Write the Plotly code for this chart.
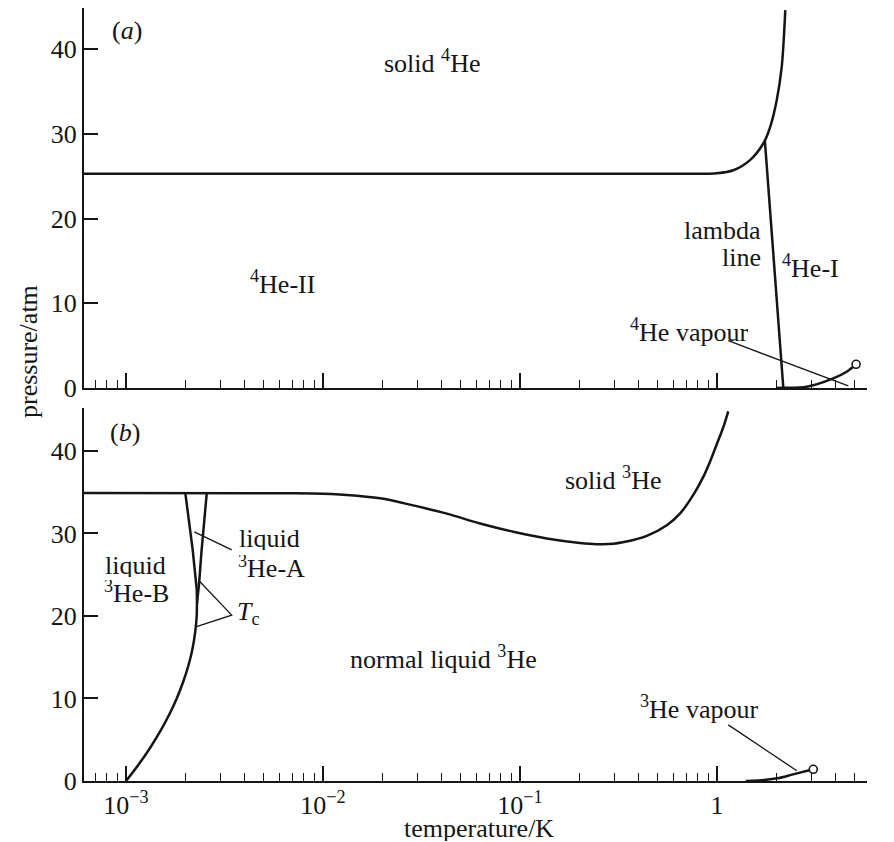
import math
import plotly.graph_objects as go

# ---------------- data (temperature / K, pressure / atm) ----------------
# panel (a): helium-4
he4_melt_T = [6.0e-4, 0.6, 1.0, 1.21, 1.47, 1.72, 1.86, 2.01, 2.13, 2.19, 2.22]
he4_melt_P = [25.3, 25.3, 25.35, 25.7, 26.9, 28.9, 30.8, 34.0, 37.9, 41.9, 44.6]
lambda_T = [1.75, 2.17]
lambda_P = [29.1, 0.0]
he4_vap_T = [2.0, 2.17, 2.85, 3.89, 4.55, 5.08]
he4_vap_P = [0.0, 0.02, 0.15, 1.14, 1.92, 2.8]
he4_crit_T = [5.08]
he4_crit_P = [2.8]
he4_vap_ptr_T = [1.14, 4.64]
he4_vap_ptr_P = [5.58, 0.24]

# panel (b): helium-3
he3_melt_T = [6.0e-4, 6.05e-3, 8.93e-3, 0.0132, 0.0195, 0.0287, 0.0425, 0.0627,
              0.0925, 0.1366, 0.2017, 0.245, 0.298, 0.376, 0.44, 0.556, 0.648,
              0.759, 0.849, 0.921, 1.0, 1.077, 1.14]
he3_melt_P = [34.9, 34.87, 34.85, 34.67, 34.26, 33.4, 32.4, 31.2,
              30.2, 29.4, 28.85, 28.7, 28.75, 29.2, 29.7, 31.0, 32.4,
              34.7, 36.8, 38.7, 40.9, 42.9, 44.8]
he3_tc_T = [1.000e-3, 1.159e-3, 1.324e-3, 1.490e-3, 1.653e-3, 1.809e-3, 1.949e-3,
            2.074e-3, 2.174e-3, 2.243e-3, 2.285e-3, 2.293e-3, 2.35e-3, 2.42e-3, 2.57e-3]
he3_tc_P = [0.0, 2.0, 4.0, 6.0, 8.0, 10.0, 12.0,
            14.0, 16.0, 18.0, 20.0, 21.5, 24.0, 28.0, 34.9]
he3_ab_T = [2.293e-3, 2.286e-3, 2.18e-3, 2.0e-3]
he3_ab_P = [21.5, 23.2, 28.0, 34.9]
he3_vap_T = [1.4, 1.52, 2.02, 2.43, 3.08]
he3_vap_P = [0.0, 0.02, 0.33, 0.8, 1.42]
he3_crit_T = [3.08]
he3_crit_P = [1.42]
he3_vap_ptr_T = [1.14, 2.54]
he3_vap_ptr_P = [6.8, 1.25]
tc_ptr_T = [2.36e-3, 3.44e-3, 2.28e-3]
tc_ptr_P = [24.2, 20.1, 18.7]
heA_ptr_T = [3.44e-3, 2.22e-3]
heA_ptr_P = [28.0, 30.2]

# axis ticks
y_ticks = [0, 10, 20, 30, 40]
x_major = [1e-3, 1e-2, 1e-1, 1.0]
x_major_text = ["10<sup>\u22123</sup>", "10<sup>\u22122</sup>", "10<sup>\u22121</sup>", "1"]
x_minor = [m * d for d in [1e-4, 1e-3, 1e-2, 1e-1, 1.0] for m in range(2, 10)]

# ---------------- figure ----------------
FONT = "Liberation Serif, Times New Roman, serif"
INK = "#151515"
LW = 2.5

fig = go.Figure()


def line(T, P, ax, width=LW, shape="linear"):
    xa, ya = ("x", "y") if ax == "a" else ("x2", "y2")
    fig.add_trace(go.Scatter(x=T, y=P, mode="lines", xaxis=xa, yaxis=ya,
                             line=dict(color=INK, width=width, shape=shape, smoothing=0.9),
                             showlegend=False, hoverinfo="skip"))


def point(T, P, ax):
    xa, ya = ("x", "y") if ax == "a" else ("x2", "y2")
    fig.add_trace(go.Scatter(x=T, y=P, mode="markers", xaxis=xa, yaxis=ya,
                             marker=dict(symbol="circle", size=8, color="white",
                                         line=dict(color=INK, width=1.6)),
                             cliponaxis=False, showlegend=False, hoverinfo="skip"))


# panel (a)
line(he4_melt_T, he4_melt_P, "a", shape="spline")
line(lambda_T, lambda_P, "a")
line(he4_vap_T, he4_vap_P, "a", shape="spline")
line(he4_vap_ptr_T, he4_vap_ptr_P, "a", width=1.3)
point(he4_crit_T, he4_crit_P, "a")

# panel (b)
line(he3_melt_T, he3_melt_P, "b", shape="spline")
line(he3_tc_T, he3_tc_P, "b", shape="spline")
line(he3_ab_T, he3_ab_P, "b")
line(he3_vap_T, he3_vap_P, "b", shape="spline")
line(he3_vap_ptr_T, he3_vap_ptr_P, "b", width=1.3)
line(tc_ptr_T, tc_ptr_P, "b", width=1.3)
line(heA_ptr_T, heA_ptr_P, "b", width=1.3)
point(he3_crit_T, he3_crit_P, "b")

# ---------------- labels ----------------
annotations = []


def label(text, T, P, ax, anchor="left", size=26, h=None):
    xr, yr = ("x", "y") if ax == "a" else ("x2", "y2")
    a = dict(text=text, x=math.log10(T), y=P, xref=xr, yref=yr,
             xanchor=anchor, yanchor="middle", showarrow=False,
             font=dict(family=FONT, size=size, color=INK))
    if h:
        a["height"] = h
    annotations.append(a)


label("(<i>a</i>)", 1.01e-3, 42.2, "a", "center")
label("solid <sup>4</sup>He", 0.0199, 38.5, "a")
label("<sup>4</sup>He-II", 4.16e-3, 12.4, "a")
label("lambda", 1.71, 18.6, "a", "right", h=24)
label("line", 1.71, 15.5, "a", "right", h=24)
label("<sup>4</sup>He-I", 2.09, 14.3, "a")
label("<sup>4</sup>He vapour", 0.353, 6.84, "a")
label("critical", 6.49, 8.38, "a", "right", h=24)
label("point", 6.49, 5.07, "a", "right", h=24)

label("(<i>b</i>)", 0.99e-3, 42.2, "b", "center")
label("liquid", 7.64e-4, 26.2, "b", h=24)
label("<sup>3</sup>He-B", 7.55e-4, 22.9, "b", h=24)
label("liquid", 3.66e-3, 29.5, "b", h=24)
label("<sup>3</sup>He-A", 3.6e-3, 25.9, "b", h=24)
label("<i>T</i><sub>c</sub>", 3.57e-3, 20.4, "b")
label("solid <sup>3</sup>He", 0.165, 36.7, "b")
label("normal liquid <sup>3</sup>He", 0.0134, 15.0, "b")
label("<sup>3</sup>He vapour", 0.397, 8.85, "b")
label("critical", 5.98, 7.15, "b", "right", h=24)
label("point", 5.98, 4.0, "b", "right", h=24)

# axis titles (paper coordinates)
annotations.append(dict(text="pressure/atm", x=-0.0702, y=0.555, xref="paper", yref="paper",
                        textangle=-90, showarrow=False, xanchor="center", yanchor="middle",
                        font=dict(family=FONT, size=26, color=INK)))
annotations.append(dict(text="temperature/K", x=0.5045, y=-0.0605, xref="paper", yref="paper",
                        showarrow=False, xanchor="center", yanchor="middle", height=26,
                        font=dict(family=FONT, size=26, color=INK)))

xr = [math.log10(6.12e-4), math.log10(5.77)]

xcommon = dict(type="log", range=xr, showgrid=False, zeroline=False,
               showline=True, linecolor=INK, linewidth=2,
               ticks="inside", ticklen=15, tickwidth=1.6, tickcolor=INK,
               tickmode="array", tickvals=x_major, ticktext=x_major_text,
               minor=dict(tickmode="array", tickvals=x_minor, ticks="inside",
                          ticklen=8, tickwidth=1.4, tickcolor=INK, showgrid=False),
               tickfont=dict(family=FONT, size=26, color=INK))
ycommon = dict(showgrid=False, zeroline=False, showline=True, linecolor=INK, linewidth=2,
               ticks="inside", ticklen=14, tickwidth=1.8, tickcolor=INK,
               tickmode="array", tickvals=y_ticks,
               tickfont=dict(family=FONT, size=26, color=INK))

# the page adds an 8 px body margin, so the figure is 8 px smaller than the window
fig.update_layout(
    width=886, height=834,
    margin=dict(l=76, r=27, t=0, b=61),
    paper_bgcolor="white", plot_bgcolor="white",
    xaxis=dict(xcommon, anchor="y", domain=[0, 1], showticklabels=False),
    yaxis=dict(ycommon, anchor="x", domain=[0.5084, 1.0], range=[0, 44.85]),
    xaxis2=dict(xcommon, anchor="y2", domain=[0, 1]),
    yaxis2=dict(ycommon, anchor="x2", domain=[0, 0.4825], range=[0, 45.2]),
    annotations=annotations,
)

fig.write_html("out.html")
